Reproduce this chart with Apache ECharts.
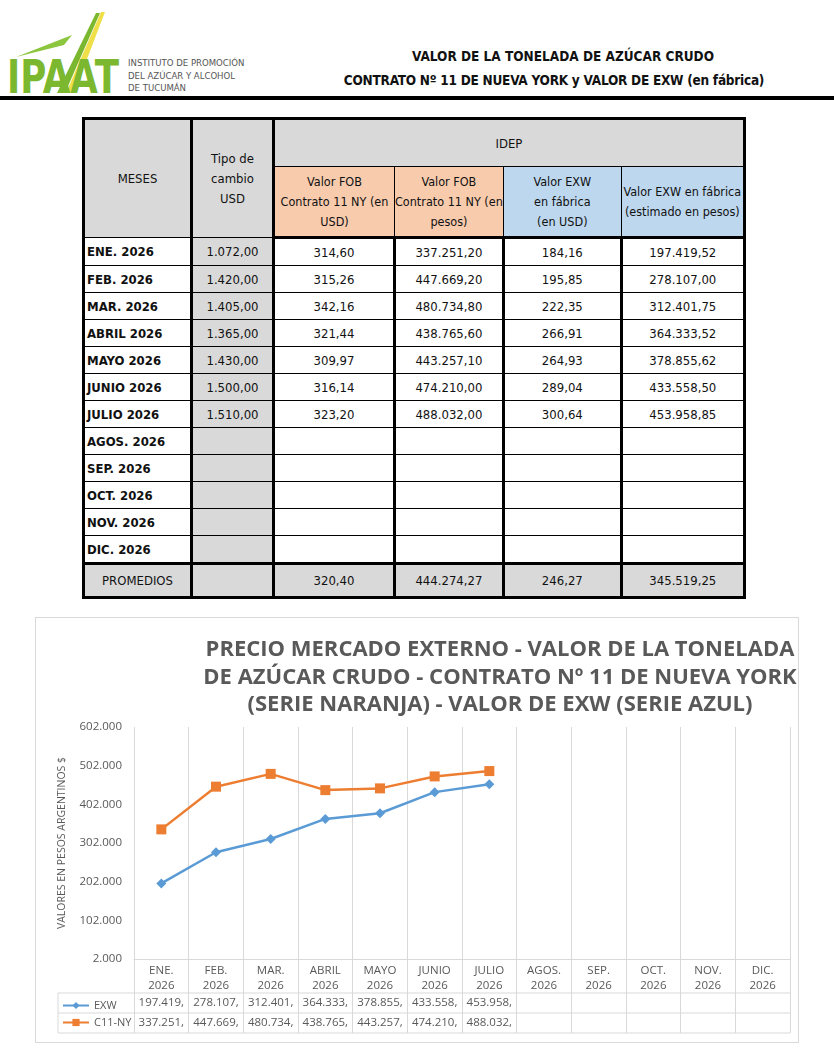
<!DOCTYPE html>
<html>
<head>
<meta charset="utf-8">
<script src="https://cdn.jsdelivr.net/npm/echarts@6/dist/echarts.min.js"></script>
<style>
body{margin:0;width:834px;height:1059px;background:#fff;position:relative;overflow:hidden;font-family:"DejaVu Sans Condensed","DejaVu Sans",sans-serif;color:#111}
#logo{position:absolute;left:0;top:0}
#logoTxt{position:absolute;left:128px;top:57px;font-size:9.5px;line-height:12.5px;color:#555}
#cabecera{position:absolute;left:343px;width:440px;top:44px;text-align:center;font-weight:bold;font-size:13.5px;line-height:24px}
#raya{position:absolute;left:0;top:96px;width:834px;height:4px;background:#000}
#tabla{position:absolute;left:82px;top:117px;border-collapse:collapse;table-layout:fixed;border:3px solid #000;font-size:13px}
#tabla td{border-top:1px solid #000;border-bottom:1px solid #000;border-left:3px solid #000;border-right:3px solid #000;text-align:center;padding:0;height:26px;white-space:nowrap;overflow:hidden}
#tabla td.gris{background:#d9d9d9}
#tabla td.nar{background:#f8cbad}
#tabla td.azu{background:#bdd7ee}
#tabla td.sub{border-left-width:1px;border-right-width:1px;line-height:20px;font-size:12.5px}
#tabla td.mes{text-align:left;padding-left:2px;font-weight:bold}
#tabla tr.fin td{border-top:3px solid #000;height:31px}
#tabla tr.cab2 td{border-bottom:3px solid #000}
#chart{position:absolute;left:35px;top:617px;width:764px;height:426px}
#marco{position:absolute;left:35px;top:617px;width:762px;height:424px;border:1px solid #d9d9d9;pointer-events:none}
</style>
</head>
<body>
<svg id="logo" width="128" height="100">
  <polygon points="16,57 72,35 64,45" fill="#8cc63e"/>
  <polygon points="57,93 96,13 100,13 65,93" fill="#7cb82f"/>
  <polygon points="66,93 101,12 105,12 74,93" fill="#efe04a"/>
  <text x="7" y="93" font-family="DejaVu Sans Condensed" font-weight="bold" font-size="46" fill="#7cb82f" textLength="112" lengthAdjust="spacingAndGlyphs">IPAAT</text>
</svg>
<div id="logoTxt">INSTITUTO DE PROMOCIÓN<br>DEL AZÚCAR Y ALCOHOL<br>DE TUCUMÁN</div>
<div id="cabecera">VALOR DE LA TONELADA DE AZÚCAR CRUDO<br><span style="letter-spacing:-0.25px;position:relative;left:-9px">CONTRATO Nº 11 DE NUEVA YORK y VALOR DE EXW (en fábrica)</span></div>
<div id="raya"></div>

<table id="tabla">
  <colgroup><col style="width:108px"><col style="width:82px"><col style="width:121px"><col style="width:108px"><col style="width:118px"><col style="width:123px"></colgroup>
  <tbody id="cuerpo"></tbody>
</table>

<div id="chart"></div>
<div id="marco"></div>

<script>
// meses del año
const meses = ['ENE. 2026', 'FEB. 2026', 'MAR. 2026', 'ABRIL 2026', 'MAYO 2026', 'JUNIO 2026',
  'JULIO 2026', 'AGOS. 2026', 'SEP. 2026', 'OCT. 2026', 'NOV. 2026', 'DIC. 2026'];
const tipoCambio = [1072.00, 1420.00, 1405.00, 1365.00, 1430.00, 1500.00, 1510.00];
const fobUsd = [314.60, 315.26, 342.16, 321.44, 309.97, 316.14, 323.20];
const fobPesos = [337251.20, 447669.20, 480734.80, 438765.60, 443257.10, 474210.00, 488032.00];
const exwUsd = [184.16, 195.85, 222.35, 266.91, 264.93, 289.04, 300.64];
const exwPesos = [197419.52, 278107.00, 312401.75, 364333.52, 378855.62, 433558.50, 453958.85];
const promedios = [320.40, 444274.27, 246.27, 345519.25];
const ejeY = { min: 2000, max: 602000, paso: 100000 };

function miles(s) {
  return s.replace(/\B(?=(\d{3})+(?!\d))/g, '.');
}
function fmt(v, dec) {
  if (v === undefined || v === null) return '';
  const p = v.toFixed(dec).split('.');
  return miles(p[0]) + (dec ? ',' + p[1] : '');
}
function fmtCorto(v) {
  if (v === undefined) return '';
  return miles(String(Math.floor(v))) + ',';
}

// tabla de arriba
let html = '<tr style="height:48px"><td class="gris" rowspan="2">MESES</td>' +
  '<td class="gris" rowspan="2" style="line-height:20px">Tipo de<br>cambio<br>USD</td>' +
  '<td class="gris" colspan="4" style="border-bottom-width:1px">IDEP</td></tr>' +
  '<tr class="cab2" style="height:71px">' +
  '<td class="nar sub">Valor FOB<br>Contrato 11 NY (en<br>USD)</td>' +
  '<td class="nar sub">Valor FOB<br>Contrato 11 NY (en<br>pesos)</td>' +
  '<td class="azu sub">Valor EXW<br>en fábrica<br>(en USD)</td>' +
  '<td class="azu sub">Valor EXW en fábrica<br>(estimado en pesos)</td></tr>';
meses.forEach((m, i) => {
  html += '<tr><td class="mes">' + m + '</td>' +
    '<td class="gris">' + fmt(tipoCambio[i], 2) + '</td>' +
    '<td>' + fmt(fobUsd[i], 2) + '</td>' +
    '<td>' + fmt(fobPesos[i], 2) + '</td>' +
    '<td>' + fmt(exwUsd[i], 2) + '</td>' +
    '<td>' + fmt(exwPesos[i], 2) + '</td></tr>';
});
html += '<tr class="fin"><td class="gris">PROMEDIOS</td><td class="gris"></td>' +
  promedios.map(v => '<td class="gris">' + fmt(v, 2) + '</td>').join('') + '</tr>';
document.getElementById('cuerpo').innerHTML = html;

// grafico
const categorias = meses.map(m => m.replace(' ', '\n'));
const gris = '#595959';
const linea = '#d9d9d9';
const fuente = 'Open Sans';

const myChart = echarts.init(document.getElementById('chart'));
myChart.setOption({
  animation: false,
  title: {
    text: 'PRECIO MERCADO EXTERNO - VALOR DE LA TONELADA\nDE AZÚCAR CRUDO - CONTRATO Nº 11 DE NUEVA YORK\n(SERIE NARANJA) - VALOR DE EXW (SERIE AZUL)',
    left: 460,
    top: 14,
    textAlign: 'center',
    textStyle: { fontFamily: fuente, fontWeight: 'bold', fontSize: 22, lineHeight: 27.5, color: gris }
  },
  legend: {
    orient: 'vertical',
    left: 27,
    top: 383,
    padding: 0,
    itemGap: 6,
    itemWidth: 26,
    itemHeight: 9,
    textStyle: { color: gris, fontSize: 11, fontFamily: fuente },
    data: ['EXW', 'C11-NY']
  },
  grid: { left: 99, right: 9, top: 110, bottom: 84 },
  xAxis: [
    {
      type: 'category',
      data: categorias,
      axisLine: { lineStyle: { color: linea } },
      axisTick: { show: true, length: 74, lineStyle: { color: linea } },
      splitLine: { show: true, lineStyle: { color: linea } },
      axisLabel: { interval: 0, color: gris, fontSize: 11.5, fontFamily: fuente, lineHeight: 15, margin: 4 }
    },
    {
      type: 'category',
      data: categorias,
      position: 'bottom',
      offset: 34,
      axisLine: { show: false },
      axisTick: { show: false },
      axisLabel: { interval: 0, color: gris, fontSize: 11.5, fontFamily: fuente, margin: 4,
        formatter: (v, i) => fmtCorto(exwPesos[i]) }
    },
    {
      type: 'category',
      data: categorias,
      position: 'bottom',
      offset: 54,
      axisLine: { show: false },
      axisTick: { show: false },
      axisLabel: { interval: 0, color: gris, fontSize: 11.5, fontFamily: fuente, margin: 4,
        formatter: (v, i) => fmtCorto(fobPesos[i]) }
    }
  ],
  yAxis: {
    type: 'value',
    min: ejeY.min,
    max: ejeY.max,
    interval: ejeY.paso,
    name: 'VALORES EN PESOS ARGENTINOS $',
    nameLocation: 'middle',
    nameGap: 66,
    nameTextStyle: { color: gris, fontSize: 10.5, fontFamily: fuente },
    axisLine: { show: false },
    axisTick: { show: false },
    splitLine: { show: false },
    axisLabel: { color: gris, fontSize: 11.5, fontFamily: fuente, margin: 12, formatter: v => fmt(v, 0) }
  },
  graphic: [
    { type: 'line', shape: { x1: 23, y1: 376, x2: 755, y2: 376 }, style: { stroke: linea, lineWidth: 1 } },
    { type: 'line', shape: { x1: 23, y1: 396, x2: 755, y2: 396 }, style: { stroke: linea, lineWidth: 1 } },
    { type: 'line', shape: { x1: 23, y1: 416, x2: 755, y2: 416 }, style: { stroke: linea, lineWidth: 1 } },
    { type: 'line', shape: { x1: 23, y1: 376, x2: 23, y2: 416 }, style: { stroke: linea, lineWidth: 1 } }
  ],
  series: [
    {
      name: 'EXW',
      type: 'line',
      data: exwPesos,
      symbol: 'diamond',
      symbolSize: 10,
      lineStyle: { color: '#5b9bd5', width: 2.5 },
      itemStyle: { color: '#5b9bd5' }
    },
    {
      name: 'C11-NY',
      type: 'line',
      data: fobPesos,
      symbol: 'rect',
      symbolSize: 10,
      lineStyle: { color: '#ed7d31', width: 2.5 },
      itemStyle: { color: '#ed7d31' }
    }
  ]
});
</script>
</body>
</html>
